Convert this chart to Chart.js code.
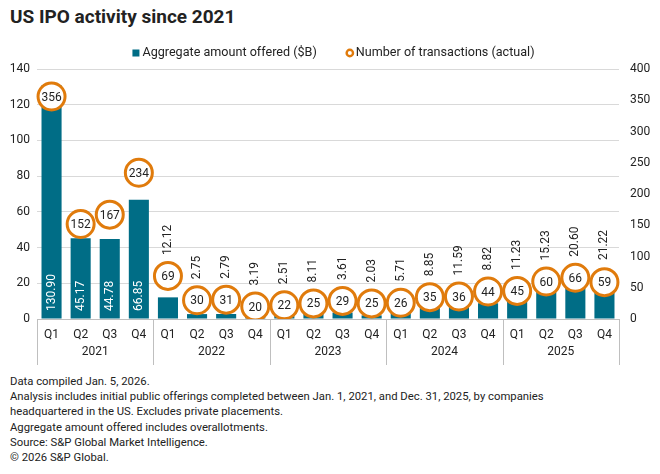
<!DOCTYPE html>
<html>
<head>
<meta charset="utf-8">
<script src="https://cdn.jsdelivr.net/npm/chart.js@4"></script>
<style>
  body { margin: 0; background: #fff; font-family: Roboto, sans-serif; color: #222; }
  #title { position: absolute; left: 10px; top: 5px; font-size: 19px; font-weight: 700; }
  #wrap { position: absolute; left: 0; top: 40px; width: 660px; height: 330px; }
  #notes { position: absolute; left: 10px; top: 374px; font-size: 11.3px; line-height: 15.2px; }
</style>
</head>
<body>
<div id="title">US IPO activity since 2021</div>
<div id="wrap"><canvas id="ipoChart"></canvas></div>
<div id="notes">
  Data compiled Jan. 5, 2026.<br>
  Analysis includes initial public offerings completed between Jan. 1, 2021, and Dec. 31, 2025, by companies<br>
  headquartered in the US. Excludes private placements.<br>
  Aggregate amount offered includes overallotments.<br>
  Source: S&amp;P Global Market Intelligence.<br>
  &copy; 2026 S&amp;P Global.
</div>
<script>
const years = ["2021", "2022", "2023", "2024", "2025"];
const quarters = ["Q1", "Q2", "Q3", "Q4"];
const amountOffered = [130.90, 45.17, 44.78, 66.85, 12.12, 2.75, 2.79, 3.19, 2.51, 8.11, 3.61, 2.03, 5.71, 8.85, 11.59, 8.82, 11.23, 15.23, 20.60, 21.22];
const transactions = [356, 152, 167, 234, 69, 30, 31, 20, 22, 25, 29, 25, 26, 35, 36, 44, 45, 60, 66, 59];

const labels = [];
years.forEach(y => quarters.forEach(q => labels.push(q)));

const teal = "#006D86";
const orange = "#E07B0C";
const gridGray = "#D9D9D9";

// legend row: square for bars, ring for transactions, wide gap between items
const topLegend = {
    id: "topLegend",
    afterDraw(chart) {
        let ctx = chart.ctx;
        let sets = chart.data.datasets;
        let gap = 28;
        ctx.save();
        ctx.font = "12.6px Roboto";
        ctx.textBaseline = "middle";
        let widths = sets.map(d => 11 + ctx.measureText(d.label).width);
        let total = widths.reduce((a, b) => a + b, 0) + gap * (sets.length - 1);
        let x = (chart.width - total) / 2 + 4;
        let y = 13;
        sets.forEach((d, i) => {
            if (d.type === "line") {
                ctx.beginPath();
                ctx.arc(x + 4, y, 3.2, 0, Math.PI * 2);
                ctx.fillStyle = "#fff";
                ctx.fill();
                ctx.lineWidth = 2.4;
                ctx.strokeStyle = orange;
                ctx.stroke();
            } else {
                ctx.fillStyle = teal;
                ctx.fillRect(x, y - 3.5, 7, 7);
            }
            ctx.fillStyle = "#222";
            ctx.fillText(d.label, x + 10, y);
            x += widths[i] + gap;
        });
        ctx.restore();
    }
};

// value labels on bars and inside the circles
const valueLabels = {
    id: "valueLabels",
    afterDatasetsDraw(chart) {
        let ctx = chart.ctx;
        let bars = chart.getDatasetMeta(0).data;
        let dots = chart.getDatasetMeta(1).data;
        ctx.save();
        ctx.font = "12px Roboto";
        bars.forEach((bar, i) => {
            let text = amountOffered[i].toFixed(2);
            ctx.save();
            ctx.translate(bar.x, 0);
            ctx.rotate(-Math.PI / 2);
            ctx.textBaseline = "middle";
            ctx.textAlign = "left";
            if (i < 4) {
                ctx.fillStyle = "#fff";
                ctx.fillText(text, -(chart.chartArea.bottom - 8), 0);
            } else {
                ctx.fillStyle = "#222";
                let yy = Math.min(bar.y, dots[i].y) - 21;
                ctx.fillText(text, -yy, 0);
            }
            ctx.restore();
        });
        ctx.fillStyle = "#222";
        ctx.textAlign = "center";
        ctx.textBaseline = "middle";
        dots.forEach((pt, i) => {
            ctx.fillText(transactions[i], pt.x, pt.y + 1);
        });
        ctx.restore();
    }
};

// year row and separators under the quarter labels
const yearAxis = {
    id: "yearAxis",
    afterDraw(chart) {
        let ctx = chart.ctx;
        let x = chart.scales.x;
        let bottom = chart.chartArea.bottom;
        let step = x.getPixelForValue(1) - x.getPixelForValue(0);
        ctx.save();
        ctx.strokeStyle = "#BFBFBF";
        ctx.lineWidth = 1;
        ctx.beginPath();
        ctx.moveTo(chart.chartArea.left, bottom + 0.5);
        ctx.lineTo(chart.chartArea.right, bottom + 0.5);
        for (let k = 0; k <= years.length; k++) {
            let px = Math.round(x.getPixelForValue(k * 4) - step / 2) + 0.5;
            ctx.moveTo(px, bottom);
            ctx.lineTo(px, bottom + 46);
        }
        ctx.stroke();
        ctx.fillStyle = "#222";
        ctx.font = "12px Roboto";
        ctx.textAlign = "center";
        ctx.textBaseline = "middle";
        years.forEach((yr, k) => {
            let cx = (x.getPixelForValue(k * 4) + x.getPixelForValue(k * 4 + 3)) / 2;
            ctx.fillText(yr, cx, bottom + 33);
        });
        ctx.restore();
    }
};

let ctx = document.getElementById("ipoChart").getContext("2d");
new Chart(ctx, {
    type: "bar",
    data: {
        labels: labels,
        datasets: [{
            label: "Aggregate amount offered ($B)",
            data: amountOffered,
            backgroundColor: teal,
            categoryPercentage: 1,
            barPercentage: 0.69,
            yAxisID: "y",
            order: 1
        }, {
            type: "line",
            label: "Number of transactions (actual)",
            data: transactions,
            showLine: false,
            borderColor: orange,
            backgroundColor: "#fff",
            pointBackgroundColor: "#fff",
            pointBorderColor: orange,
            pointBorderWidth: 3,
            pointRadius: 13.5,
            pointHoverRadius: 13.5,
            borderWidth: 3,
            yAxisID: "y1",
            order: 0
        }]
    },
    options: {
        responsive: true,
        maintainAspectRatio: false,
        animation: false,
        layout: { padding: { top: 29, left: 0, right: 0, bottom: 0 } },
        plugins: {
            legend: { display: false },
            tooltip: { enabled: false }
        },
        scales: {
            x: {
                grid: { display: false, drawTicks: false },
                border: { display: false },
                ticks: { color: "#222", padding: 9, font: { family: "Roboto", size: 12 }, maxRotation: 0, autoSkip: false },
                afterFit: s => { s.height = 51; }
            },
            y: {
                position: "left",
                min: 0,
                max: 140,
                ticks: { stepSize: 20, color: "#222", padding: 7, font: { family: "Roboto", size: 12 } },
                grid: { color: gridGray, drawTicks: false },
                border: { display: false },
                afterFit: s => { s.width = 37; }
            },
            y1: {
                position: "right",
                min: 0,
                max: 400,
                ticks: { stepSize: 50, color: "#222", padding: 11, font: { family: "Roboto", size: 12 } },
                grid: { drawOnChartArea: false, drawTicks: false },
                border: { display: false },
                afterFit: s => { s.width = 41; }
            }
        }
    },
    plugins: [valueLabels, yearAxis, topLegend]
});
</script>
</body>
</html>
